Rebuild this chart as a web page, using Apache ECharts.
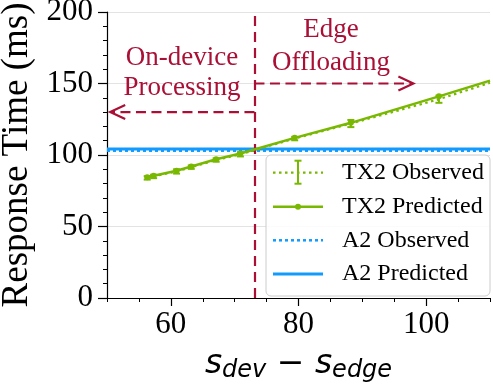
<!DOCTYPE html>
<html><head><meta charset="utf-8">
<script src="https://cdn.jsdelivr.net/npm/echarts@6/dist/echarts.min.js"></script>
<style>html,body{margin:0;padding:0;background:#fff}#c{width:493px;height:385px}</style>
</head><body><div id="c"></div>
<script>
// ---- data ----
const sDiff          = [56.3, 57.3, 60.9, 63.2, 67.1, 70.9, 79.4, 88.2, 102.0];
const tx2Predicted   = [84.5, 85.5, 89.0, 92.0, 97.0, 101.0, 112.0, 122.5, 141.0];
const tx2Observed    = [84.0, 85.0, 88.5, 91.5, 96.5, 100.5, 111.5, 122.0, 139.0];
const tx2ObservedErr = [1.2, 1.2, 1.5, 1.2, 1.2, 1.5, 1.2, 2.5, 2.5];
const tailX          = [110];
const tx2PredTail    = [152.0];
const tx2ObsTail     = [150.5];
const a2Observed     = 103.0;
const a2Predicted    = 104.2;
const threshold      = 73.1;
const arrows         = [[73.1, 50.5, 130], [73.1, 98.0, 150]]; // [from x, to x, y]
const xRange         = [50, 110];
const yRange         = [0, 200];
const xTickLabels    = [60, 80, 100];
const yTickLabels    = [0, 50, 100, 150, 200];
const seriesNames    = ['TX2 Observed', 'TX2 Predicted', 'A2 Observed', 'A2 Predicted'];

// ---- style ----
const GREEN = '#79b800', BLUE = '#129bff', RED = '#aa0f35';
const SERIF = 'Liberation Serif';

const chart = echarts.init(document.getElementById('c'), null, {renderer: 'canvas'});

const predData = sDiff.map((x, i) => [x, tx2Predicted[i]])
  .concat(tailX.map((x, i) => ({value: [x, tx2PredTail[i]], symbol: 'none'})));
const obsData = sDiff.map((x, i) => [x, tx2Observed[i]])
  .concat(tailX.map((x, i) => [x, tx2ObsTail[i]]));
const errData = sDiff.map((x, i) => [x, tx2Observed[i] - tx2ObservedErr[i], tx2Observed[i] + tx2ObservedErr[i]]);

function errItem(params, api) {
  const x = api.value(0);
  const lo = api.coord([x, api.value(1)]);
  const hi = api.coord([x, api.value(2)]);
  const cw = 3.5;
  const st = {stroke: GREEN, lineWidth: 2};
  return {type: 'group', children: [
    {type: 'line', shape: {x1: lo[0], y1: lo[1], x2: hi[0], y2: hi[1]}, style: st},
    {type: 'line', shape: {x1: lo[0] - cw, y1: lo[1], x2: lo[0] + cw, y2: lo[1]}, style: st},
    {type: 'line', shape: {x1: hi[0] - cw, y1: hi[1], x2: hi[0] + cw, y2: hi[1]}, style: st}
  ]};
}
function arrowItem(params, api) {
  const a = api.coord([api.value(0), api.value(2)]);
  const b = api.coord([api.value(1), api.value(2)]);
  const dir = b[0] > a[0] ? 1 : -1;
  return {type: 'group', children: [
    {type: 'line', shape: {x1: a[0], y1: a[1], x2: b[0] - dir * 2, y2: b[1]},
     style: {stroke: RED, lineWidth: 2.2, lineDash: [10, 5.5]}},
    {type: 'polyline', shape: {points: [[b[0] - dir * 15, b[1] - 7], [b[0], b[1]], [b[0] - dir * 15, b[1] + 7]]},
     style: {stroke: RED, lineWidth: 2.2, fill: null}}
  ]};
}

// legend drawn as graphic (matplotlib-like box)
const LX = 266, LY = 155, LW = 224, LH = 141;
const rows = [172.7, 206.7, 240.3, 274];
const sx1 = 273, sx2 = 323, sxm = 298, tx = 342;
const legend = [
  {type: 'rect', shape: {x: LX, y: LY, width: LW, height: LH, r: 5},
   style: {fill: 'rgba(255,255,255,0.85)', stroke: '#cccccc', lineWidth: 1}},
  {type: 'line', shape: {x1: sx1, y1: rows[0], x2: sx2, y2: rows[0]}, style: {stroke: GREEN, lineWidth: 2.2, lineDash: [2.5, 3.5]}},
  {type: 'line', shape: {x1: sxm, y1: rows[0] - 12, x2: sxm, y2: rows[0] + 11}, style: {stroke: GREEN, lineWidth: 2}},
  {type: 'line', shape: {x1: sxm - 3.5, y1: rows[0] - 12, x2: sxm + 3.5, y2: rows[0] - 12}, style: {stroke: GREEN, lineWidth: 2}},
  {type: 'line', shape: {x1: sxm - 3.5, y1: rows[0] + 11, x2: sxm + 3.5, y2: rows[0] + 11}, style: {stroke: GREEN, lineWidth: 2}},
  {type: 'line', shape: {x1: sx1, y1: rows[1], x2: sx2, y2: rows[1]}, style: {stroke: GREEN, lineWidth: 2.5}},
  {type: 'circle', shape: {cx: sxm, cy: rows[1], r: 3}, style: {fill: GREEN}},
  {type: 'line', shape: {x1: sx1, y1: rows[2], x2: sx2, y2: rows[2]}, style: {stroke: BLUE, lineWidth: 2.5, lineDash: [3, 3]}},
  {type: 'line', shape: {x1: sx1, y1: rows[3], x2: sx2, y2: rows[3]}, style: {stroke: BLUE, lineWidth: 3}}
].concat(seriesNames.map((n, i) => ({
  type: 'text', x: tx, y: rows[i],
  style: {text: n, fill: '#000', font: '24px "' + SERIF + '"', verticalAlign: 'middle', textAlign: 'left'}
})));
legend.forEach(e => { e.z = 100; });

const annot = [
  ['On-device', 182, 58], ['Processing', 182, 88], ['Edge', 331, 30], ['Offloading', 331, 63]
].map(([t, x, y]) => ({type: 'text', x, y, z: 100,
  style: {text: t, fill: RED, font: '27px "' + SERIF + '"', textAlign: 'center', verticalAlign: 'middle'}}));

const option = {
  animation: false,
  backgroundColor: '#fff',
  grid: {left: 107, right: 3, top: 12, bottom: 87, containLabel: false, outerBoundsMode: 'none'},
  xAxis: [{
    type: 'value', min: xRange[0], max: xRange[1], interval: 5,
    axisLine: {show: true, onZero: false, lineStyle: {color: '#000', width: 1.2}},
    axisTick: {show: true, length: 4, lineStyle: {color: '#000', width: 1}},
    axisLabel: {customValues: xTickLabels, fontFamily: SERIF, fontSize: 31, color: '#000', margin: 11},
    splitLine: {show: false},
    name: '{i|s}{sub|dev}{op| − }{i|s}{sub|edge}',
    nameLocation: 'middle', nameGap: 46,
    nameTextStyle: {
      rich: {
        i: {fontFamily: 'DejaVu Sans', fontStyle: 'italic', fontSize: 33, color: '#000', lineHeight: 40, verticalAlign: 'middle'},
        sub: {fontFamily: 'DejaVu Sans', fontStyle: 'italic', fontSize: 24, color: '#000', lineHeight: 40, padding: [14, 0, 0, 0], verticalAlign: 'middle'},
        op: {fontFamily: 'DejaVu Sans', fontSize: 33, color: '#000', lineHeight: 40, verticalAlign: 'middle'}
      }
    }
  }, {
    type: 'value', min: xRange[0], max: xRange[1], position: 'bottom',
    axisLine: {show: false},
    axisTick: {show: true, customValues: xTickLabels, length: 8, lineStyle: {color: '#000', width: 1.2}},
    axisLabel: {show: false}, splitLine: {show: false}
  }],
  yAxis: {
    type: 'value', min: yRange[0], max: yRange[1], interval: 50,
    axisLine: {show: true, lineStyle: {color: '#000', width: 1.2}},
    axisTick: {show: true, length: 9, lineStyle: {color: '#000', width: 1.2}},
    minorTick: {show: true, splitNumber: 5, length: 4, lineStyle: {color: '#000', width: 1}},
    axisLabel: {customValues: yTickLabels, fontFamily: SERIF, fontSize: 31, color: '#000', margin: 14},
    splitLine: {show: true, lineStyle: {color: '#e3e3e3', width: 1}},
    name: 'Response Time (ms)', nameLocation: 'middle', nameGap: 66,
    nameTextStyle: {fontFamily: SERIF, fontSize: 37, color: '#000'}
  },
  series: [
    {name: 'A2 Observed', type: 'line', symbol: 'none', z: 2,
     data: xRange.map(x => [x, a2Observed]),
     lineStyle: {color: BLUE, width: 2.5, type: [3, 3]}},
    {name: 'A2 Predicted', type: 'line', symbol: 'none', z: 2,
     data: xRange.map(x => [x, a2Predicted]),
     lineStyle: {color: BLUE, width: 3}},
    {name: 'TX2 Observed', type: 'line', symbol: 'none', z: 3,
     data: obsData, lineStyle: {color: GREEN, width: 2.2, type: [2.5, 3.5]}},
    {name: 'TX2 Observed error', type: 'custom', z: 4, renderItem: errItem, data: errData,
     encode: {x: 0, y: [1, 2]}},
    {name: 'TX2 Predicted', type: 'line', symbol: 'circle', symbolSize: 6, z: 5,
     data: predData, itemStyle: {color: GREEN}, lineStyle: {color: GREEN, width: 2.5},
     markLine: {silent: true, symbol: 'none', label: {show: false},
       lineStyle: {color: RED, width: 2.2, type: [10, 6]},
       data: [{xAxis: threshold}]}},
    {name: 'arrows', type: 'custom', z: 6, renderItem: arrowItem, data: arrows, clip: false,
     encode: {x: [0, 1], y: 2}}
  ],
  graphic: annot.concat(legend)
};
chart.setOption(option);
</script></body></html>
